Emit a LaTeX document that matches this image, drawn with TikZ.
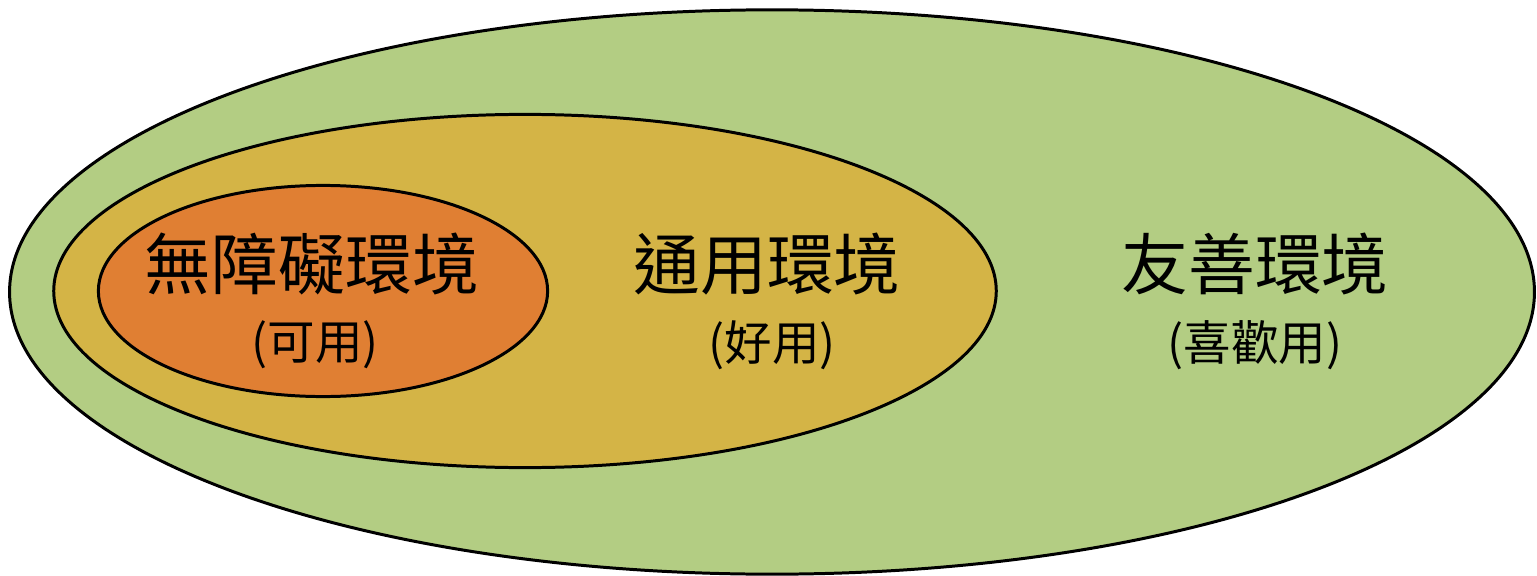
\documentclass[tikz,border=0pt]{standalone}
\usepackage{fontspec}
\setmainfont{Noto Sans CJK TC}
\usetikzlibrary{shapes.geometric}
\definecolor{friendgreen}{RGB}{179,205,131}
\definecolor{universalgold}{RGB}{212,180,70}
\definecolor{accessorange}{RGB}{224,127,51}

\begin{document}
\begin{tikzpicture}[x=0.01cm,y=-0.01cm,
    zone/.style={ellipse,draw=black,line width=0.85pt,inner sep=0pt},
    title/.style={font=\fontsize{19}{19}\selectfont},
    sub/.style={font=\fontsize{13.5}{13.5}\selectfont}]
    \useasboundingbox (0,0) rectangle (1537,576);
    \node [zone,fill=friendgreen,minimum width=15.24cm,minimum height=5.64cm] (outer) at (772,292) {};
    \node [zone,fill=universalgold,minimum width=9.42cm,minimum height=3.53cm] (middle) at (525,291) {};
    \node [zone,fill=accessorange,minimum width=4.49cm,minimum height=2.11cm] (inner) at (323,291) {};
    \node [title] (access) at (312,264) {無障礙環境};
    \node [sub] (usable) at (315,345) {(可用)};
    \node [title] (universal) at (767,264) {通用環境};
    \node [sub] (good) at (772,345) {(好用)};
    \node [title] (friendly) at (1255,264) {友善環境};
    \node [sub] (liked) at (1255,345) {(喜歡用)};
\end{tikzpicture}
\end{document}
